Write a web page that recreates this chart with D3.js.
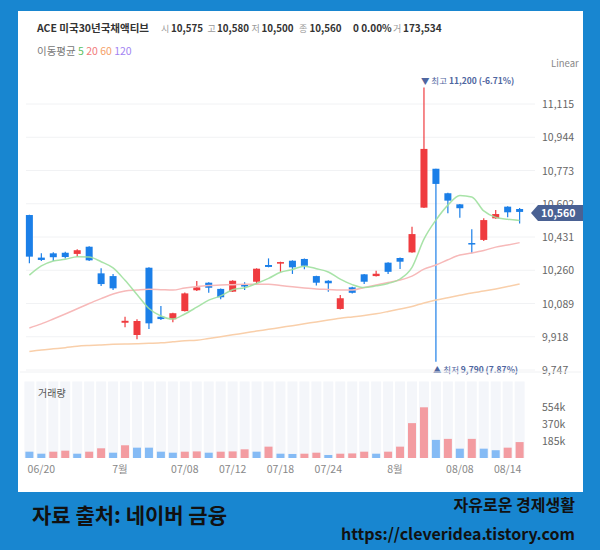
<!DOCTYPE html>
<html>
<head>
<meta charset="utf-8">
<script src="https://cdn.jsdelivr.net/npm/d3@7"></script>
<style>
  body { margin: 0; background: #1886d0; }
  svg text { font-family: "Noto Sans CJK KR", "Noto Sans", sans-serif; }
</style>
</head>
<body>
<div id="chart"></div>
<script>
// ---- data ----
var dates = ["06/19", "06/20", "06/21", "06/24", "06/25", "06/26", "06/27", "06/28",
  "07/01", "07/02", "07/03", "07/04", "07/05", "07/08", "07/09", "07/10", "07/11", "07/12",
  "07/15", "07/16", "07/17", "07/18", "07/19", "07/22", "07/23", "07/24", "07/25", "07/26",
  "07/29", "07/30", "07/31", "08/01", "08/02", "08/05", "08/06", "08/07", "08/08", "08/09",
  "08/12", "08/13", "08/14", "08/16"];

var opens = [10544, 10325, 10347, 10350, 10344, 10381, 10244, 10230, 9990, 9927, 10273, 10021,
  10008, 10050, 10157, 10196, 10164, 10150, 10184, 10201, 10287, 10294, 10309, 10318, 10230,
  10206, 10061, 10172, 10239, 10230, 10299, 10323, 10352, 10582, 10782, 10656, 10599, 10400,
  10416, 10527, 10587, 10575];
var highs = [10546, 10347, 10352, 10355, 10368, 10384, 10270, 10241, 10021, 10008, 10275, 10076,
  10041, 10145, 10205, 10198, 10166, 10208, 10198, 10270, 10321, 10304, 10311, 10320, 10232,
  10208, 10133, 10175, 10241, 10257, 10301, 10325, 10484, 11200, 10782, 10658, 10601, 10471,
  10527, 10570, 10589, 10580];
var lows = [10296, 10308, 10308, 10320, 10330, 10308, 10179, 10158, 9967, 9905, 9958, 10004,
  9992, 10048, 10153, 10144, 10111, 10148, 10158, 10184, 10275, 10252, 10241, 10265, 10181,
  10150, 10058, 10140, 10189, 10228, 10241, 10266, 10350, 10580, 9790, 10553, 10530, 10347,
  10410, 10525, 10532, 10500];
var closes = [10330, 10313, 10327, 10328, 10363, 10311, 10189, 10167, 10000, 9999, 9987, 10009,
  10039, 10141, 10172, 10170, 10121, 10206, 10179, 10268, 10277, 10302, 10275, 10283, 10196,
  10193, 10116, 10144, 10201, 10242, 10252, 10304, 10446, 10884, 10704, 10618, 10579, 10397,
  10518, 10549, 10558, 10560];

// volume in thousands, and whether the bar is drawn red (up) or blue
var volumes = [69, 47, 69, 80, 47, 69, 106, 58, 139, 113, 113, 69, 58, 69, 72, 58, 69, 72, 95,
  69, 124, 47, 44, 47, 58, 33, 47, 50, 69, 47, 69, 124, 381, 554, 198, 209, 102, 209, 102, 85,
  113, 174];
var volUp = [0, 0, 1, 1, 0, 1, 1, 0, 1, 0, 0, 0, 0, 1, 1, 0, 1, 1, 1, 0, 1, 0, 0, 1, 1, 0, 1, 1,
  1, 0, 1, 1, 1, 1, 0, 1, 0, 1, 0, 0, 1, 1];

// moving averages
var ma5 = [10235, 10282, 10308, 10316, 10330, 10328, 10304, 10272, 10208, 10135, 10063, 10025,
  10009, 10035, 10070, 10106, 10128, 10160, 10170, 10192, 10218, 10250, 10264, 10281, 10268,
  10251, 10214, 10186, 10171, 10180, 10192, 10215, 10275, 10420, 10518, 10595, 10645, 10637,
  10565, 10532, 10522, 10516];
var ma20 = [9963, 9984, 10009, 10035, 10062, 10089, 10114, 10138, 10153, 10158, 10162, 10160,
  10158, 10169, 10177, 10182, 10184, 10186, 10188, 10188, 10188, 10182, 10175, 10169, 10164,
  10161, 10158, 10158, 10171, 10184, 10197, 10210, 10230, 10266, 10287, 10314, 10338, 10349,
  10362, 10379, 10390, 10402];
var ma60 = [9842, 9850, 9856, 9862, 9869, 9873, 9876, 9879, 9881, 9882, 9884, 9887, 9892, 9897,
  9900, 9909, 9918, 9928, 9937, 9947, 9956, 9966, 9975, 9985, 9994, 10004, 10013, 10020, 10027,
  10036, 10048, 10061, 10074, 10092, 10107, 10119, 10131, 10143, 10153, 10164, 10176, 10189];

var priceTicks = [9747, 9918, 10089, 10260, 10431, 10602, 10773, 10944, 11115];
var volumeTicks = [185, 370, 554];
var xTickDates = ["06/20", "07/01", "07/08", "07/12", "07/18", "07/24", "08/01", "08/08", "08/14"];
var xTickTexts = ["06/20", "7월", "07/08", "07/12", "07/18", "07/24", "8월", "08/08", "08/14"];

var headerNames = ["시", "고", "저", "종"];
var headerValues = [10575, 10580, 10500, 10560];
var hiNoteText = ["▼ 최고 ", "11,200 (-6.71%)"];
var loNoteText = ["▲ 최저 ", "9,790 (7.87%)"];
var maNames = ["5", "20", "60", "120"];

var svgWidth = 600;
var svgHeight = 550;

var RED = "#ef3b3f", BLUE = "#1b7fe8";
var fmt = d3.format(",");

var svg = d3.select("#chart")
  .append("svg")
  .attr("width", svgWidth)
  .attr("height", svgHeight);

// blue frame + white panel
svg.append("rect").attr("width", svgWidth).attr("height", svgHeight).attr("fill", "#1886d0");
svg.append("rect")
  .attr("x", 18).attr("y", 11)
  .attr("width", 565).attr("height", 481)
  .attr("fill", "#fff");

// scales
var x = d3.scaleBand()
  .domain(dates)
  .range([23.4, 525.6])
  .padding(0);
var cx = d => x(d) + x.bandwidth() / 2;

var y = d3.scaleLinear()
  .domain([9747, 11115])
  .range([370, 104]);

var yVol = d3.scaleLinear()
  .domain([0, 554])
  .range([458, 407.3]);

// price gridlines
svg.append("g").selectAll("line")
  .data(priceTicks)
  .enter()
  .append("line")
  .attr("x1", 26).attr("x2", 535)
  .attr("y1", d => y(d)).attr("y2", d => y(d))
  .attr("stroke", "#f1f2f4");

// candles
var candles = svg.append("g").selectAll("g")
  .data(dates)
  .enter()
  .append("g");

candles.append("line")
  .attr("x1", d => cx(d)).attr("x2", d => cx(d))
  .attr("y1", (d, i) => y(highs[i]))
  .attr("y2", (d, i) => y(lows[i]))
  .attr("stroke", (d, i) => closes[i] >= opens[i] ? RED : BLUE)
  .attr("stroke-width", 1.2);

candles.append("rect")
  .attr("x", d => cx(d) - 3.5)
  .attr("width", 7)
  .attr("y", (d, i) => y(Math.max(opens[i], closes[i])))
  .attr("height", (d, i) => Math.max(1.5, Math.abs(y(opens[i]) - y(closes[i]))))
  .attr("fill", (d, i) => closes[i] >= opens[i] ? RED : BLUE);

// moving average lines
var maLine = function (arr) {
  return d3.line()
    .x(d => cx(d))
    .y((d, i) => y(arr[i]))
    .curve(d3.curveMonotoneX)(dates);
};
svg.append("path").attr("d", maLine(ma60)).attr("fill", "none")
  .attr("stroke", "#f9cfaa").attr("stroke-width", 1.5);
svg.append("path").attr("d", maLine(ma20)).attr("fill", "none")
  .attr("stroke", "#f7b9b9").attr("stroke-width", 1.5);
svg.append("path").attr("d", maLine(ma5)).attr("fill", "none")
  .attr("stroke", "#9fe09f").attr("stroke-width", 1.5).attr("opacity", 0.9);

// high / low notes
var hiIdx = highs.indexOf(d3.max(highs));
var loIdx = lows.indexOf(d3.min(lows));
var notes = svg.append("g").attr("fill", "#4f66a0").attr("font-size", 8.5);
var hiNote = notes.append("text")
  .attr("x", cx(dates[hiIdx]) - 3)
  .attr("y", y(highs[hiIdx]) - 3);
hiNote.append("tspan").text(hiNoteText[0]);
hiNote.append("tspan").attr("font-weight", "bold").text(hiNoteText[1]);
var loNote = notes.append("text")
  .attr("x", cx(dates[loIdx]) - 3)
  .attr("y", y(lows[loIdx]) + 11);
loNote.append("tspan").text(loNoteText[0]);
loNote.append("tspan").attr("font-weight", "bold").text(loNoteText[1]);

// y axis labels
svg.append("g").selectAll("text")
  .data(priceTicks)
  .enter()
  .append("text")
  .attr("x", 542)
  .attr("y", d => y(d) + 4)
  .attr("font-size", 10.5)
  .attr("fill", "#666")
  .text(d => fmt(d));

svg.append("text")
  .attr("x", 551).attr("y", 67)
  .attr("font-size", 9.5).attr("fill", "#888")
  .text("Linear");

// current price tag
var last = closes[closes.length - 1];
var ty = y(last) + 1;
svg.append("path")
  .attr("d", `M531,${ty} L538,${ty - 8} L583,${ty - 8} L583,${ty + 8} L538,${ty + 8} Z`)
  .attr("fill", "#4a6193");
svg.append("text")
  .attr("x", 541).attr("y", ty + 4)
  .attr("font-size", 10.5).attr("font-weight", "bold").attr("fill", "#fff")
  .text(fmt(last));

// volume panel
svg.append("line")
  .attr("x1", 20).attr("x2", 581)
  .attr("y1", 372).attr("y2", 372)
  .attr("stroke", "#f0f1f3");

svg.append("g").selectAll("rect")
  .data(dates)
  .enter()
  .append("rect")
  .attr("x", d => cx(d) - 5)
  .attr("width", 10)
  .attr("y", 381.5)
  .attr("height", 458 - 381.5)
  .attr("fill", "#f4f6fa");

svg.append("g").selectAll("rect")
  .data(dates)
  .enter()
  .append("rect")
  .attr("x", d => cx(d) - 4)
  .attr("width", 8)
  .attr("y", (d, i) => yVol(volumes[i]))
  .attr("height", (d, i) => yVol(0) - yVol(volumes[i]))
  .attr("fill", (d, i) => volUp[i] ? "#f39ca1" : "#85bbf5");

svg.append("text")
  .attr("x", 38).attr("y", 397)
  .attr("font-size", 10).attr("fill", "#555")
  .text("거래량");

svg.append("g").selectAll("text")
  .data(volumeTicks)
  .enter()
  .append("text")
  .attr("x", 542)
  .attr("y", d => yVol(d) + 4)
  .attr("font-size", 10.5)
  .attr("fill", "#666")
  .text(d => d + "k");

// x axis labels (month labels sit a little left of their day)
svg.append("g").selectAll("text")
  .data(xTickDates)
  .enter()
  .append("text")
  .attr("x", (d, i) => cx(d) - (xTickTexts[i].indexOf("월") > 0 ? 5 : 0))
  .attr("y", 473)
  .attr("text-anchor", "middle")
  .attr("font-size", 10.5)
  .attr("fill", "#888")
  .text((d, i) => xTickTexts[i]);

// header
svg.append("text")
  .attr("x", 37).attr("y", 32)
  .attr("font-size", 10.5).attr("font-weight", "bold").attr("fill", "#333")
  .text("ACE 미국30년국채액티브");

var headerNameX = [161, 207.5, 251.5, 299];
var headerValueX = [171, 217, 261.5, 309.5];
headerNames.forEach(function (name, i) {
  svg.append("text")
    .attr("x", headerNameX[i]).attr("y", 32)
    .attr("font-size", 9).attr("fill", "#999")
    .text(name);
  svg.append("text")
    .attr("x", headerValueX[i]).attr("y", 32)
    .attr("font-size", 10).attr("font-weight", "bold").attr("fill", "#333")
    .attr("textLength", 32).attr("lengthAdjust", "spacingAndGlyphs")
    .text(fmt(headerValues[i]));
});
svg.append("text")
  .attr("x", 353).attr("y", 32)
  .attr("font-size", 10).attr("font-weight", "bold").attr("fill", "#333")
  .text("0 0.00%");
svg.append("text")
  .attr("x", 393).attr("y", 32)
  .attr("font-size", 9).attr("fill", "#999")
  .text("거");
svg.append("text")
  .attr("x", 403).attr("y", 32)
  .attr("font-size", 10).attr("font-weight", "bold").attr("fill", "#333")
  .text("173,534");

// moving average legend
var legend = svg.append("text").attr("x", 37).attr("y", 55).attr("font-size", 10.5);
legend.append("tspan").attr("fill", "#777").text("이동평균 ");
var maColors = ["#5cc05e", "#f27a7a", "#f5a068", "#a384f2"];
maNames.forEach(function (n, i) {
  legend.append("tspan").attr("fill", maColors[i]).text(n + " ");
});

// footer
svg.append("text")
  .attr("x", 32).attr("y", 523)
  .attr("font-size", 21).attr("font-weight", "bold").attr("fill", "#111")
  .text("자료 출처: 네이버 금융");
svg.append("text")
  .attr("x", 575).attr("y", 511)
  .attr("text-anchor", "end")
  .attr("font-size", 16).attr("font-weight", "bold").attr("fill", "#111")
  .text("자유로운 경제생활");
svg.append("text")
  .attr("x", 575).attr("y", 540)
  .attr("text-anchor", "end")
  .attr("font-size", 16).attr("font-weight", "bold").attr("fill", "#111")
  .text("https://cleveridea.tistory.com");
</script>
</body>
</html>
